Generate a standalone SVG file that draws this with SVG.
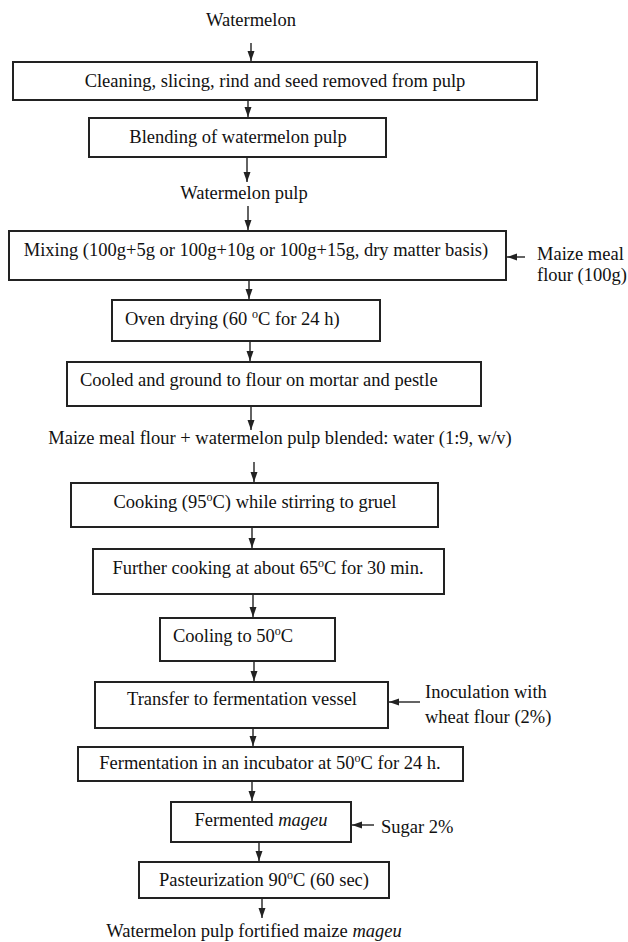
<svg xmlns="http://www.w3.org/2000/svg" width="628" height="942" viewBox="0 0 628 942">
<style>
text{font-family:"Liberation Serif","Times New Roman",serif;font-size:18.5px;fill:#111}
.c{text-anchor:middle}
.box{fill:#fff;stroke:#222;stroke-width:2}
.ln{stroke:#222;stroke-width:1.4;fill:none;marker-end:url(#ah)}
.sup{font-size:12px}
</style>
<defs>
<marker id="ah" markerUnits="userSpaceOnUse" markerWidth="10" markerHeight="10" viewBox="0 0 10 10" refX="10" refY="5" orient="auto">
<path d="M0,1.5 L10,5 L0,8.5 z" fill="#222"/>
</marker>
</defs>
<rect width="628" height="942" fill="#fff"/>
<g id="connectors">
<line class="ln" x1="251" y1="43" x2="251" y2="61"/>
<line class="ln" x1="248" y1="100" x2="248" y2="117"/>
<line class="ln" x1="247" y1="157" x2="247" y2="182"/>
<line class="ln" x1="248" y1="206" x2="248" y2="230"/>
<line class="ln" x1="249" y1="281" x2="249" y2="299"/>
<line class="ln" x1="250" y1="341" x2="250" y2="361"/>
<line class="ln" x1="251" y1="406" x2="251" y2="430"/>
<line class="ln" x1="254" y1="462" x2="254" y2="482"/>
<line class="ln" x1="252" y1="527" x2="252" y2="548"/>
<line class="ln" x1="253" y1="594" x2="253" y2="617"/>
<line class="ln" x1="254" y1="661" x2="254" y2="681"/>
<line class="ln" x1="253" y1="728" x2="253" y2="746"/>
<line class="ln" x1="252" y1="781" x2="252" y2="801"/>
<line class="ln" x1="259" y1="842" x2="259" y2="861"/>
<line class="ln" x1="262" y1="898" x2="262" y2="918"/>
<line class="ln" x1="525" y1="257" x2="507" y2="257"/>
<line class="ln" x1="420" y1="702" x2="389" y2="702"/>
<line class="ln" x1="374" y1="825" x2="352" y2="825"/>
</g>
<g id="start"><text class="c" x="251" y="26">Watermelon</text></g>
<g id="clean"><rect class="box" x="13" y="62" width="524" height="38"/><text class="c" x="275" y="87">Cleaning, slicing, rind and seed removed from pulp</text></g>
<g id="blend"><rect class="box" x="89" y="118" width="297" height="39"/><text class="c" x="238" y="143">Blending of watermelon pulp</text></g>
<g id="pulp"><text class="c" x="244" y="199">Watermelon pulp</text></g>
<g id="mixing"><rect class="box" x="9" y="231" width="497" height="49"/><text class="c" x="256" y="256">Mixing (100g+5g or 100g+10g or 100g+15g, dry matter basis)</text></g>
<g id="maize"><text x="537" y="260">Maize meal</text><text x="537" y="281">flour (100g)</text></g>
<g id="oven"><rect class="box" x="112" y="300" width="268" height="41"/><text x="125" y="325">Oven drying (60 <tspan class="sup" dy="-7">o</tspan><tspan dy="7">C for 24 h)</tspan></text></g>
<g id="cooled"><rect class="box" x="67" y="362" width="414" height="44"/><text x="80" y="386">Cooled and ground to flour on mortar and pestle</text></g>
<g id="blended"><text class="c" x="280" y="444">Maize meal flour + watermelon pulp blended: water (1:9, w/v)</text></g>
<g id="cooking"><rect class="box" x="71" y="483" width="367" height="44"/><text class="c" x="255" y="508">Cooking (95<tspan class="sup" dy="-7">o</tspan><tspan dy="7">C) while stirring to gruel</tspan></text></g>
<g id="further"><rect class="box" x="93" y="549" width="351" height="45"/><text class="c" x="268" y="574">Further cooking at about 65<tspan class="sup" dy="-7">o</tspan><tspan dy="7">C for 30 min.</tspan></text></g>
<g id="cooling"><rect class="box" x="160" y="618" width="175" height="43"/><text x="173" y="642">Cooling to 50<tspan class="sup" dy="-7">o</tspan><tspan dy="7">C</tspan></text></g>
<g id="transfer"><rect class="box" x="95" y="682" width="293" height="46"/><text class="c" x="242" y="705">Transfer to fermentation vessel</text></g>
<g id="inoc"><text x="425" y="698">Inoculation with</text><text x="425" y="723">wheat flour (2%)</text></g>
<g id="ferment"><rect class="box" x="78" y="747" width="385" height="34"/><text class="c" x="270" y="769">Fermentation in an incubator at 50<tspan class="sup" dy="-7">o</tspan><tspan dy="7">C for 24 h.</tspan></text></g>
<g id="fermented"><rect class="box" x="171" y="802" width="180" height="40"/><text class="c" x="261" y="826">Fermented <tspan font-style="italic">mageu</tspan></text></g>
<g id="sugar"><text x="381" y="833">Sugar 2%</text></g>
<g id="pasteur"><rect class="box" x="139" y="862" width="250" height="36"/><text class="c" x="264" y="886">Pasteurization 90<tspan class="sup" dy="-7">o</tspan><tspan dy="7">C (60 sec)</tspan></text></g>
<g id="final"><text class="c" x="254" y="937">Watermelon pulp fortified maize <tspan font-style="italic">mageu</tspan></text></g>
</svg>
